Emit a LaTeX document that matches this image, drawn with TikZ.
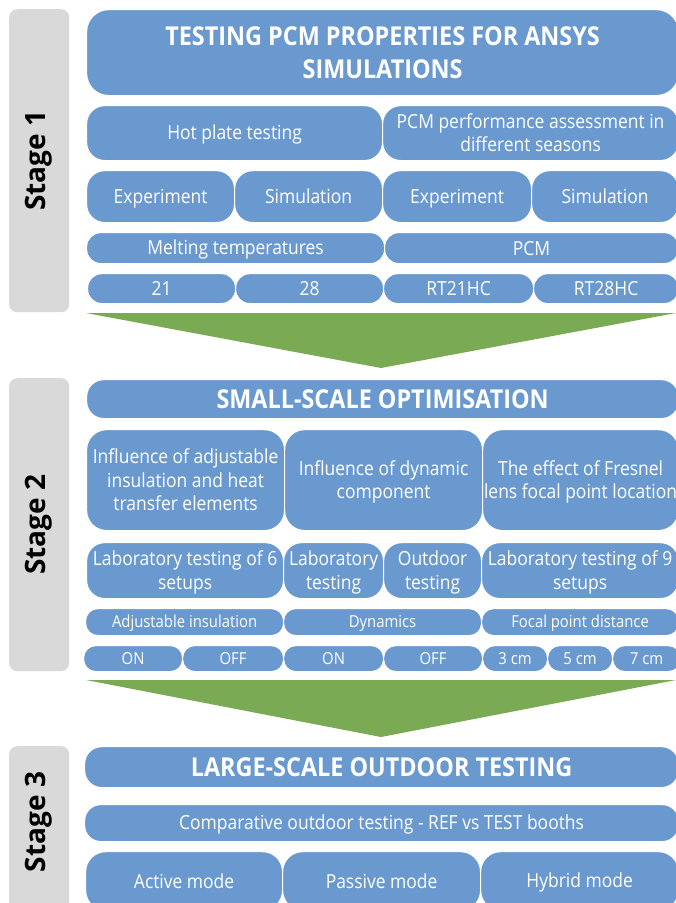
\documentclass[tikz,border=0pt]{standalone}
\usepackage{fontspec}
\setmainfont{Open Sans}
\newfontfamily\cellfont[FakeStretch=0.9]{Open Sans}
\definecolor{cellblue}{HTML}{6A99CF}
\definecolor{flowgreen}{HTML}{7BAA55}
\definecolor{stagegray}{HTML}{D9D9D9}
% strut that keeps capitals centred whatever the descenders
\newcommand{\capstrut}{\rule[-0.236em]{0pt}{1.186em}}
% one rounded cell given by its corners: [style]{name}{x1}{y1}{x2}{y2}{text}
\newcommand{\cell}[7][]{%
  \node[cellbox,#1,anchor=north west,
        minimum width={(#5-#3)*1pt},minimum height={(#6-#4)*1pt}]
        (#2) at (#3,#4) {\capstrut#7\capstrut};}
\begin{document}
\begin{tikzpicture}[x=1pt,y=-1pt,
  cellbox/.style={fill=cellblue,draw=white,line width=1.2pt,text=white,
    inner sep=0pt,align=center,rounded corners=14pt,
    font=\cellfont\fontsize{19.4}{23.5}\selectfont},
  headcell/.style={font=\cellfont\bfseries\fontsize{26}{33}\selectfont,rounded corners=17pt},
  smallcell/.style={font=\cellfont\fontsize{16.5}{19}\selectfont,rounded corners=12pt},
  bigcell/.style={rounded corners=20pt},
  stagebox/.style={fill=stagegray,draw=none,rounded corners=8pt,inner sep=0pt},
  stagelabel/.style={rotate=90,font=\bfseries\fontsize{28}{32}\selectfont,text=black,inner sep=0pt},
  flowarrow/.style={fill=flowgreen}]
\useasboundingbox (0,0) rectangle (676,903);
\clip (0,0) rectangle (676,903);

% ---------------- Stage 1 ----------------
\node[stagebox,anchor=north west,minimum width=60pt,minimum height=303pt] (s1) at (9,9) {};
\node[stagelabel] (s1l) at (s1.center) {Stage 1};
\cell[headcell,rounded corners=22pt]{t1}{86}{9}{678}{95}{TESTING PCM PROPERTIES FOR ANSYS\\SIMULATIONS}
\cell[rounded corners=18pt]{hot}{86}{105}{382}{160}{Hot plate testing}
\cell[rounded corners=18pt]{perf}{382}{105}{678}{160}{PCM performance assessment in\\different seasons}
\cell[rounded corners=18pt]{exa}{86}{170}{234}{222}{Experiment}
\cell[rounded corners=18pt]{sima}{234}{170}{382}{222}{Simulation}
\cell[rounded corners=18pt]{exb}{382}{170}{531}{222}{Experiment}
\cell[rounded corners=18pt]{simb}{531}{170}{678}{222}{Simulation}
\cell{melt}{86}{232}{384}{263}{Melting temperatures}
\cell{pcm}{384}{232}{678}{263}{PCM}
\cell{m21}{87}{273}{235}{303}{21}
\cell{m28}{235}{273}{383}{303}{28}
\cell{rt21}{383}{273}{533}{303}{RT21HC}
\cell{rt28}{533}{273}{678}{303}{RT28HC}

\fill[flowarrow] (86,313) -- (676,313) -- (381,368) -- cycle;

% ---------------- Stage 2 ----------------
\node[stagebox,anchor=north west,minimum width=60pt,minimum height=293pt] (s2) at (9,378) {};
\node[stagelabel] (s2l) at (s2.center) {Stage 2};
\cell[headcell]{t2}{86}{379}{678}{418}{SMALL-SCALE OPTIMISATION}
\cell[bigcell]{ins}{86}{429}{284}{530}{Influence of adjustable\\insulation and heat\\transfer elements}
\cell[bigcell]{dyn}{284}{429}{482}{530}{Influence of dynamic\\component}
\cell[bigcell]{fres}{482}{429}{678}{530}{The effect of Fresnel\\lens focal point location}
\cell[rounded corners=18pt]{lab6}{86}{542}{283}{598}{Laboratory testing of 6\\setups}
\cell[rounded corners=18pt]{labt}{283}{542}{383}{598}{Laboratory\\testing}
\cell[rounded corners=18pt]{outt}{383}{542}{481}{598}{Outdoor\\testing}
\cell[rounded corners=18pt]{lab9}{481}{542}{678}{598}{Laboratory testing of 9\\setups}
\cell[smallcell]{adj}{85}{608}{283}{635}{Adjustable insulation}
\cell[smallcell]{dynm}{283}{608}{481}{635}{Dynamics}
\cell[smallcell]{foc}{481}{608}{678}{635}{Focal point distance}
\cell[smallcell]{on1}{83}{645}{182}{671}{ON}
\cell[smallcell]{off1}{182}{645}{283}{671}{OFF}
\cell[smallcell]{on2}{283}{645}{383}{671}{ON}
\cell[smallcell]{off2}{383}{645}{482}{671}{OFF}
\cell[smallcell]{c3}{482}{645}{547}{671}{3 cm}
\cell[smallcell]{c5}{547}{645}{612}{671}{5 cm}
\cell[smallcell]{c7}{612}{645}{680}{671}{7 cm}

\fill[flowarrow] (86,680) -- (676,680) -- (381,737) -- cycle;

% ---------------- Stage 3 ----------------
\node[stagebox,anchor=north west,minimum width=60pt,minimum height=170pt] (s3) at (9,746) {};
\node[stagelabel] (s3l) at (39,822) {Stage 3};
\cell[headcell]{t3}{84}{746}{678}{787}{LARGE-SCALE OUTDOOR TESTING}
\cell[rounded corners=16pt]{cmp}{84}{804}{678}{841}{Comparative outdoor testing - REF vs TEST booths}
\cell[bigcell]{act}{85}{851}{282}{910}{Active mode}
\cell[bigcell]{pas}{282}{851}{480}{910}{Passive mode}
\cell[bigcell]{hyb}{480}{851}{678}{910}{Hybrid mode}
\end{tikzpicture}
\end{document}
